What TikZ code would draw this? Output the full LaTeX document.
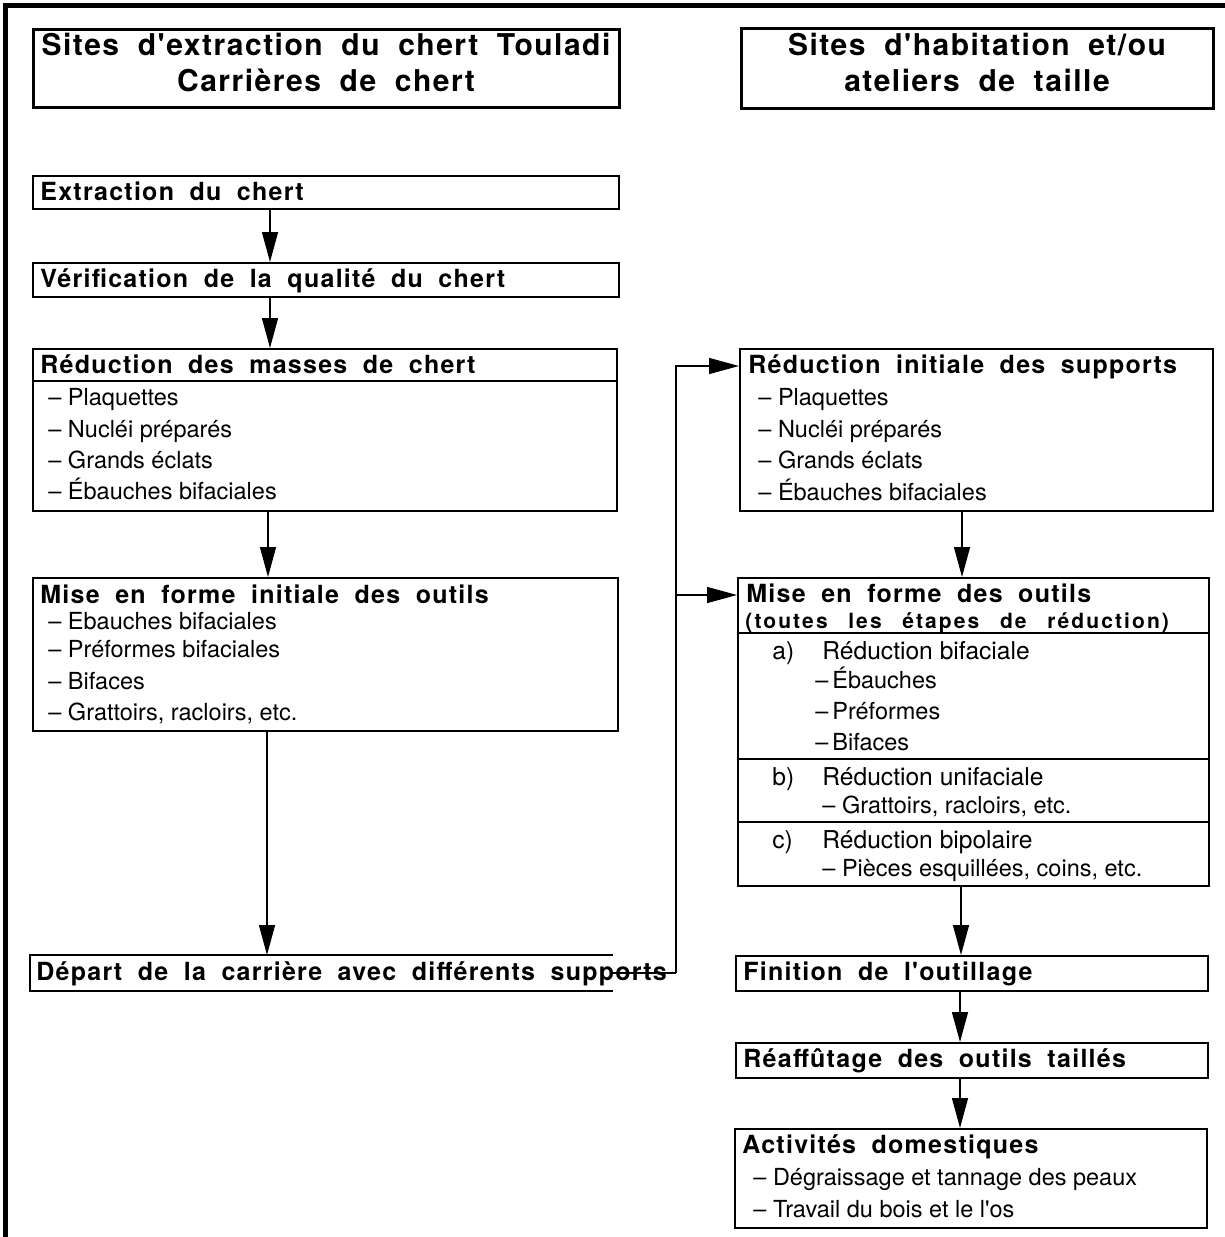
\documentclass[tikz,border=0pt]{standalone}
\usepackage{fontspec}
\setmainfont{TeX Gyre Heros}[Ligatures=TeXOff]
\newfontfamily\grast[LetterSpace=5,WordSpace=1.8]{TeX Gyre Heros}
\newfontfamily\gras[LetterSpace=5,WordSpace=1.9]{TeX Gyre Heros}
\newfontfamily\grasx[LetterSpace=10,WordSpace=2.6]{TeX Gyre Heros}
\usetikzlibrary{arrows.meta}

\tikzset{
  boite/.style={draw, line width=1.2pt, inner sep=0pt, anchor=north west},
  cote/.style={line width=1.2pt},
  titre/.style={font=\grast\bfseries\fontsize{15}{18}\selectfont, anchor=base, inner sep=0pt},
  entete/.style={font=\gras\bfseries\fontsize{12.5}{15}\selectfont, anchor=base west, inner sep=0pt},
  soustitre/.style={font=\grasx\bfseries\fontsize{10.5}{13}\selectfont, anchor=base west, inner sep=0pt},
  item/.style={font=\fontsize{11.75}{14}\selectfont, anchor=base west, inner sep=0pt},
  etape/.style={font=\fontsize{12.3}{15}\selectfont, anchor=base west, inner sep=0pt},
  fleche/.style={-{Triangle[length=15pt,width=8pt]}, line width=0.7pt},
  trait/.style={line width=0.7pt},
  sep/.style={line width=0.6pt},
}

\begin{document}
\begin{tikzpicture}[x=0.5pt,y=-0.5pt]
\useasboundingbox (0,0) rectangle (1225,1237);
% Cadre
\draw[line width=2.5pt] (5.5,1237) -- (5.5,5.5) -- (1225,5.5);

% Titres
\node[boite, line width=1.5pt, minimum width=293pt, minimum height=39pt] (titreL) at (32,28) {};
\node[titre] (titreL-1) at (326,55) {Sites d'extraction du chert Touladi};
\node[titre] (titreL-2) at (326,91) {Carrières de chert};
\node[boite, line width=1.5pt, minimum width=236pt, minimum height=40pt] (titreR) at (740,27) {};
\node[titre] (titreR-1) at (977,55) {Sites d'habitation et/ou};
\node[titre] (titreR-2) at (977,91) {ateliers de taille};

% Carrières
\node[boite, minimum width=293pt, minimum height=16.5pt] (extr) at (32,175) {};
\node[entete] (extr-t) at (40,200) {Extraction du chert};
\node[boite, minimum width=293pt, minimum height=17pt] (verif) at (32,262) {};
\node[entete] (verif-t) at (40,287) {Vérification de la qualité du chert};
\node[boite, minimum width=292pt, minimum height=81pt] (redm) at (32,348) {};
\draw[cote, line width=1pt] ([yshift=-16.5pt]redm.north west) -- ([yshift=-16.5pt]redm.north east);
\node[entete] (redm-t) at (40,373) {Réduction des masses de chert};
\foreach \y/\t [count=\i] in {405/Plaquettes, 437/Nucléi préparés, 468/Grands éclats, 499/Ébauches bifaciales}
  \node[item] (redm-\i) at (48,\y) {\textendash\ \t};
\node[boite, minimum width=292.5pt, minimum height=76.5pt] (misei) at (32,577) {};
\node[entete] (misei-t) at (40,603) {Mise en forme initiale des outils};
\foreach \y/\t [count=\i] in {629/Ebauches bifaciales, 657/Préformes bifaciales, 689/Bifaces, 720/{Grattoirs, racloirs, etc.}}
  \node[item] (misei-\i) at (48,\y) {\textendash\ \t};
\node[inner sep=0pt, anchor=north west, minimum width=291pt, minimum height=17.5pt] (depart) at (30,955) {};
\draw[cote] (depart.north east) -- (depart.north west) -- (depart.south west) -- (depart.south east);
\node[entete] (depart-t) at (36,980) {Départ de la carrière avec différents supports};

% Habitations
\node[boite, minimum width=236.5pt, minimum height=81pt] (redi) at (739,348) {};
\node[entete] (redi-t) at (748,373) {Réduction initiale des supports};
\foreach \y/\t [count=\i] in {405/Plaquettes, 437/Nucléi préparés, 468/Grands éclats, 500/Ébauches bifaciales}
  \node[item] (redi-\i) at (758,\y) {\textendash\ \t};
\node[boite, minimum width=235.5pt, minimum height=154pt] (misef) at (737,577) {};
\draw[sep] ([yshift=-28pt]misef.north west) -- ([yshift=-28pt]misef.north east);
\draw[sep] ([yshift=-91pt]misef.north west) -- ([yshift=-91pt]misef.north east);
\draw[sep] ([yshift=-122.5pt]misef.north west) -- ([yshift=-122.5pt]misef.north east);
\node[entete] (misef-t) at (746,602) {Mise en forme des outils};
\node[soustitre] (misef-s) at (745,628) {(toutes les étapes de réduction)};
\node[etape] (misef-a) at (772,659) {a)};
\node[etape] (misef-at) at (822,659) {Réduction bifaciale};
\foreach \y/\t [count=\i] in {688/Ébauches, 719/Préformes, 750/Bifaces}
  \node[item] (misef-a\i) at (815,\y) {\textendash\,\t};
\node[etape] (misef-b) at (772,785) {b)};
\node[etape] (misef-bt) at (822,785) {Réduction unifaciale};
\node[item] (misef-b1) at (822,813) {\textendash\ Grattoirs, racloirs, etc.};
\node[etape] (misef-c) at (772,848) {c)};
\node[etape] (misef-ct) at (822,848) {Réduction bipolaire};
\node[item] (misef-c1) at (822,876) {\textendash\ Pièces esquillées, coins, etc.};
\node[boite, minimum width=236pt, minimum height=17.5pt] (finit) at (735,955) {};
\node[entete] (finit-t) at (743,980) {Finition de l'outillage};
\node[boite, minimum width=236pt, minimum height=17.5pt] (reaff) at (735,1042) {};
\node[entete] (reaff-t) at (743,1067) {Réaffûtage des outils taillés};
\node[boite, minimum width=236pt, minimum height=49.5pt] (activ) at (734,1128) {};
\node[entete] (activ-t) at (742,1153) {Activités domestiques};
\node[item] (activ-1) at (753,1185) {\textendash\ Dégraissage et tannage des peaux};
\node[item] (activ-2) at (753,1217) {\textendash\ Travail du bois et le l'os};

% Flèches
\draw[fleche] ([xshift=119pt]extr.south west) coordinate (f1) -- (f1 |- verif.north);
\draw[fleche] ([xshift=119pt]verif.south west) coordinate (f2) -- (f2 |- redm.north);
\draw[fleche] ([xshift=118pt]redm.south west) coordinate (f3) -- (f3 |- misei.north);
\draw[fleche] ([xshift=117.5pt]misei.south west) coordinate (f4) -- (f4 |- depart.north);
\draw[fleche] ([xshift=111.5pt]redi.south west) coordinate (f5) -- (f5 |- misef.north);
\draw[fleche] ([xshift=112pt]misef.south west) coordinate (f6) -- (f6 |- finit.north);
\draw[fleche] ([xshift=112.5pt]finit.south west) coordinate (f7) -- (f7 |- reaff.north);
\draw[fleche] ([xshift=112.5pt]reaff.south west) coordinate (f8) -- (f8 |- activ.north);
\draw[trait] (depart.east) -- ++(63,0) coordinate (jonc);
\draw[fleche] (jonc) |- ([yshift=-9pt]redi.north west);
\draw[fleche] (jonc) |- ([yshift=-9pt]misef.north west);
\end{tikzpicture}
\end{document}
